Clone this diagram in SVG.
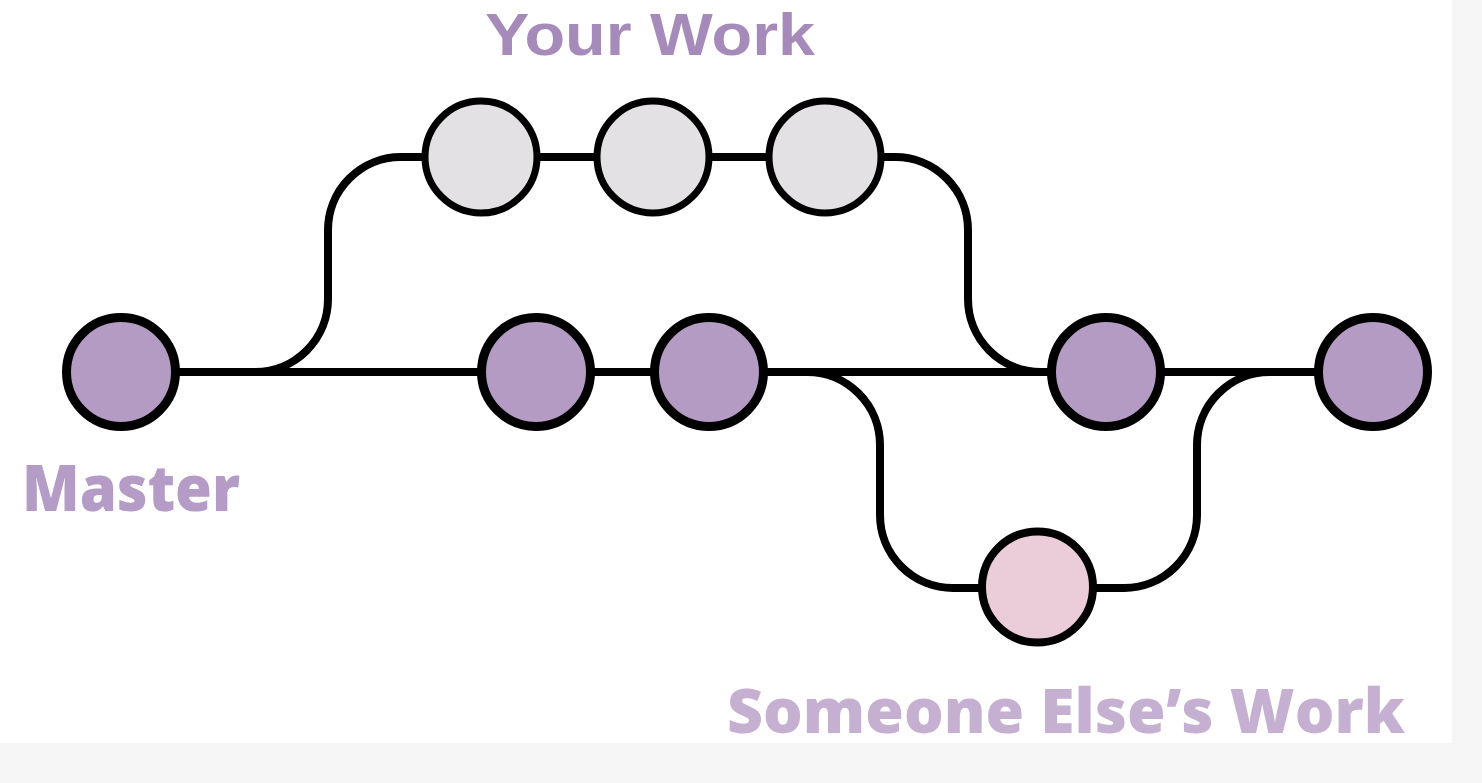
<svg xmlns="http://www.w3.org/2000/svg" width="1482" height="783" viewBox="0 0 1482 783">
<style>
.bg{fill:#f6f6f6}
.panel{fill:#ffffff}
.edge{fill:none;stroke:#000;stroke-width:8;stroke-linejoin:round}
.master{fill:#b39bc4;stroke:#000;stroke-width:9}
.yours{fill:#e3e1e3;stroke:#000;stroke-width:7}
.other{fill:#ebcdd9;stroke:#000;stroke-width:8}
.lbl{font-family:"Open Sans","Liberation Sans",sans-serif;font-weight:800}
.top{font-family:"Liberation Sans","Open Sans",sans-serif;font-weight:700}
</style>
<rect class="bg" x="0" y="0" width="1482" height="783"/>
<rect class="panel" x="0" y="0" width="1452" height="743"/>
<g id="connectors">
<path class="edge" d="M121 372 H1373"/>
<path class="edge" d="M255 372 A73 73 0 0 0 328 299 V230 A73 73 0 0 1 401 157 H895 A73 73 0 0 1 968 230 V299 A73 73 0 0 0 1041 372"/>
<path class="edge" d="M807 372 A73 73 0 0 1 880 445 V515 A73 73 0 0 0 953 588 H1124 A73 73 0 0 0 1197 515 V445 A73 73 0 0 1 1270 372"/>
</g>
<g id="m1"><circle class="master" cx="121" cy="372" r="54.5"/></g>
<g id="m2"><circle class="master" cx="536" cy="372" r="54.5"/></g>
<g id="m3"><circle class="master" cx="709" cy="372" r="54.5"/></g>
<g id="m4"><circle class="master" cx="1106" cy="372" r="54.5"/></g>
<g id="m5"><circle class="master" cx="1373" cy="372" r="54.5"/></g>
<g id="y1"><circle class="yours" cx="481" cy="157" r="56"/></g>
<g id="y2"><circle class="yours" cx="653" cy="157" r="56"/></g>
<g id="y3"><circle class="yours" cx="825" cy="157" r="56"/></g>
<g id="o1"><circle class="other" cx="1037.5" cy="587" r="55.5"/></g>
<g id="label-your-work"><text class="top" x="485" y="55" font-size="60" fill="#a68bba" textLength="330" lengthAdjust="spacingAndGlyphs">Your Work</text></g>
<g id="label-master"><text class="lbl" x="22" y="511" font-size="63" fill="#b49cc6" textLength="218" lengthAdjust="spacingAndGlyphs">Master</text></g>
<g id="label-someone"><text class="lbl" x="727" y="733" font-size="62" fill="#c6b0d1" textLength="678" lengthAdjust="spacingAndGlyphs">Someone Else’s Work</text></g>
</svg>
